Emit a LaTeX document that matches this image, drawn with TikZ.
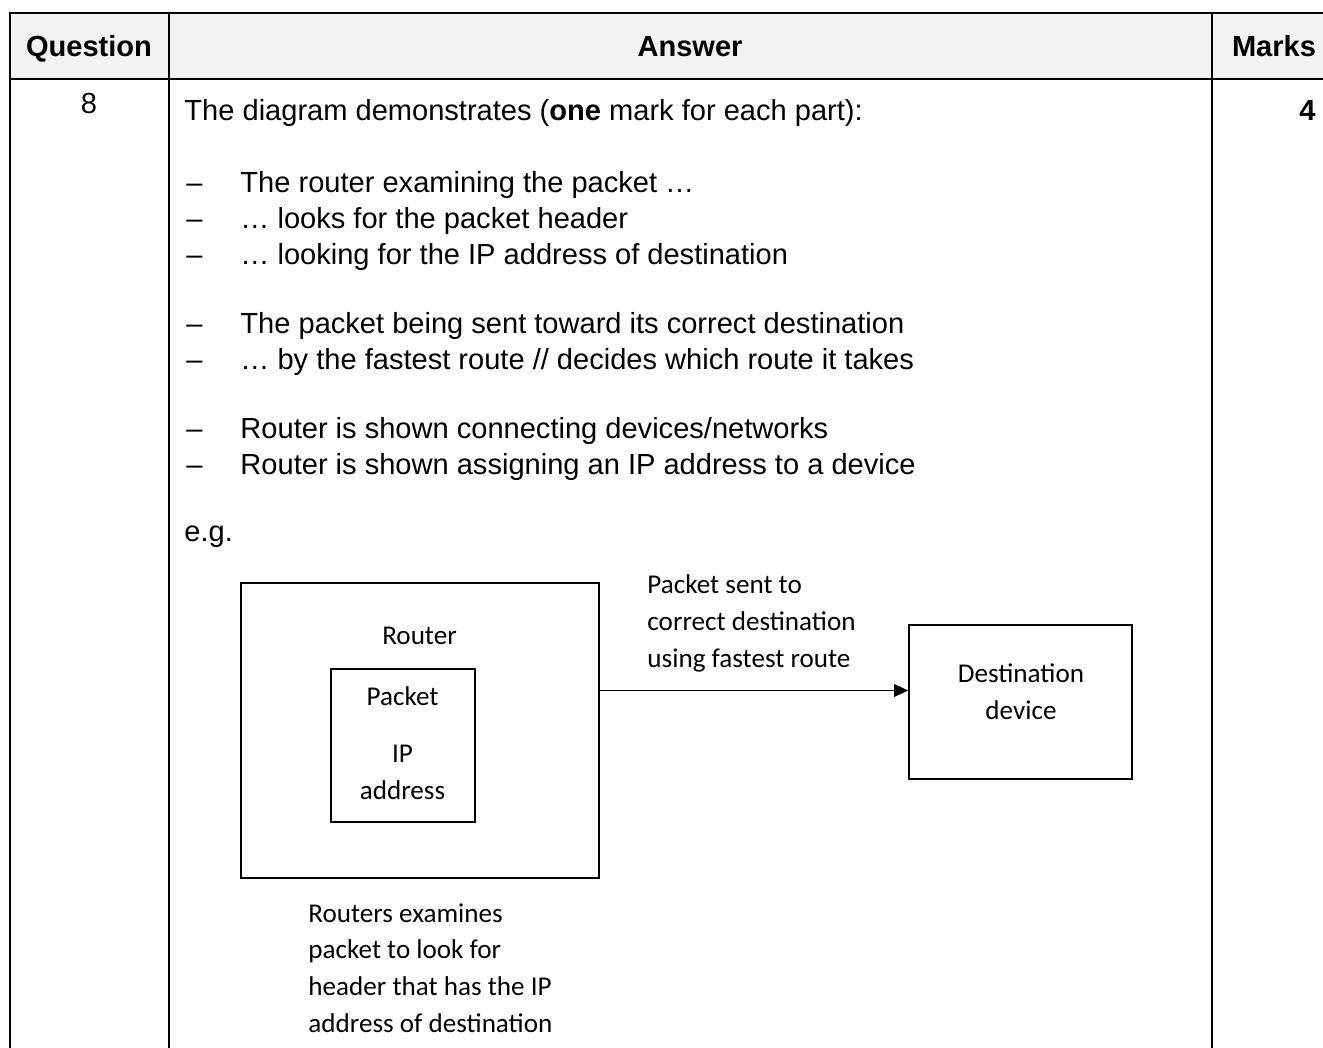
\documentclass[tikz,border=0pt]{standalone}
\usepackage{fontspec}
\setmainfont{Liberation Sans}
\newfontfamily\sketchfont{Carlito}
\usepackage{xcolor}
\definecolor{Table Grey}{HTML}{F2F2F2}
\colorlet{cHead}{Table Grey}
\usepackage{tikz}
\usetikzlibrary{arrows.meta, positioning}
\tikzset{
	rule/.style={line width=.85pt},
	heading/.style={anchor=base, inner sep=0pt, font=\bfseries\fontsize{12}{15}\selectfont},
	answer/.style={anchor=base west, inner sep=0pt, font=\fontsize{12}{15}\selectfont},
	box/.style={draw, line width=.6pt, inner sep=0pt},
	note/.style={inner sep=0pt, align=left, font=\sketchfont\fontsize{11.2}{15.1}\selectfont},
	link/.style={-{Triangle[length=5.8pt,width=5.2pt]}, line width=.5pt}
}
\begin{document}
\begin{tikzpicture}[x=.413pt, y=-.413pt]
	\useasboundingbox (0,0) rectangle (1323,1048);

	% table
	\fill[cHead] (10,13) rectangle (1323,79);
	\draw[rule] (1323,13) -- (10,13) -- (10,1048);
	\draw[rule] (10,79) -- (1323,79);
	\draw[rule] (169,13) -- (169,1048);
	\draw[rule] (1212,13) -- (1212,1048);

	\node[heading] (qhead) at (89,57) {Question};
	\node[heading] (ahead) at (690,57) {Answer};
	\node[heading] (mhead) at (1274,57) {Marks};

	\node[answer, anchor=base] (qnum) at (89,113) {8};
	\node[answer, anchor=base east, font=\bfseries\fontsize{12}{15}\selectfont] (marks) at (1316,121) {4};

	% answer text
	\node[answer] (intro) at (184,121) {The diagram demonstrates (\textbf{one} mark for each part):};

	\node[answer] (d1) at (186,192) {–};
	\node[answer] (d2) at (186,228) {–};
	\node[answer] (d3) at (186,264) {–};
	\node[answer] (d4) at (186,333) {–};
	\node[answer] (d5) at (186,369) {–};
	\node[answer] (d6) at (186,438) {–};
	\node[answer] (d7) at (186,474) {–};
	\node[answer] (p1) at (240,192) {The router examining the packet …};
	\node[answer] (p2) at (240,228) {… looks for the packet header};
	\node[answer] (p3) at (240,264) {… looking for the IP address of destination};
	\node[answer] (p4) at (240,333) {The packet being sent toward its correct destination};
	\node[answer] (p5) at (240,369) {… by the fastest route // decides which route it takes};
	\node[answer] (p6) at (240,438) {Router is shown connecting devices/networks};
	\node[answer] (p7) at (240,474) {Router is shown assigning an IP address to a device};

	\node[answer] (eg) at (184,541) {e.g.};

	% example diagram
	\node[box, minimum width=147.9pt, minimum height=121.8pt] (router) at (420,730.5) {};
	\node[box, minimum width=59.5pt, minimum height=63.2pt] (packet) at (403,745.5) {};
	\node[box, minimum width=92.1pt, minimum height=63.6pt] (dest) at (1020.5,702) {};

	\node[note, anchor=base] (routertxt) at (419.5,644) {Router};
	\node[note, anchor=base] (packettxt) at (402.5,705) {Packet};
	\node[note, anchor=base, align=center] (iptxt) at (402.5,799) {IP\\address};
	\node[note, anchor=base, align=center] (desttxt) at (1021,719) {Destination\\device};

	\coordinate (level) at (0,690.5);
	\draw[link] (router.east |- level) -- (dest.west |- level);

	\node[note, anchor=base west] (senttxt) at (647,667) {Packet sent to\\correct destination\\using fastest route};
	\node[note, anchor=base west] (examtxt) at (308,1032) {Routers examines\\packet to look for\\header that has the IP\\address of destination};
\end{tikzpicture}
\end{document}
